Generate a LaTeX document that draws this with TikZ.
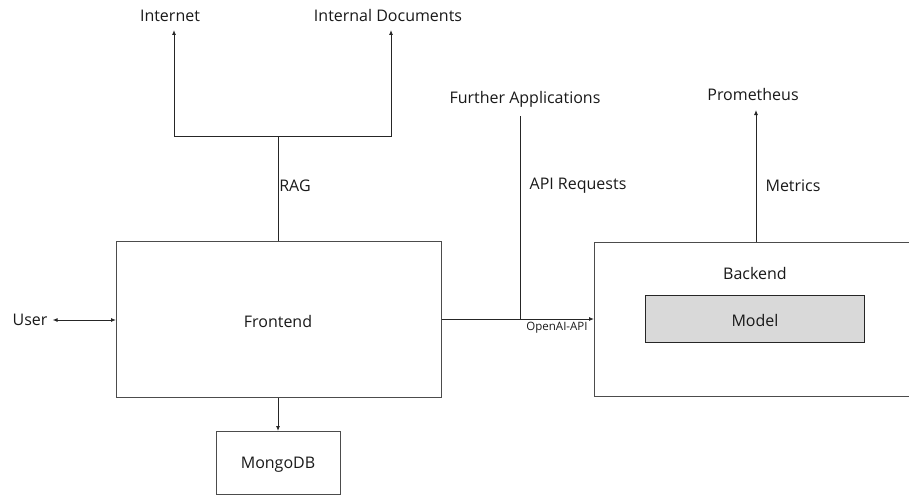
\documentclass[tikz,border=0pt]{standalone}
\usepackage{fontspec}
\setmainfont{Open Sans}
\usetikzlibrary{arrows.meta}
\begin{document}
\begin{tikzpicture}[x=1pt,y=-1pt,
  every node/.style={font=\fontsize{16}{18}\selectfont, text=black!90, inner sep=0pt},
  box/.style={draw=black!70, line width=1pt, fill=white},
  link/.style={draw=black!85, line width=0.9pt},
  tip/.style={-{Latex[length=5pt,width=4pt]}},
  small/.style={font=\fontsize{11.5}{13}\selectfont}]
\useasboundingbox (0,0) rectangle (909,495);
\begin{scope}
\clip (0,0) rectangle (909,495);
% boxes
\node[box, minimum width=325, minimum height=156, anchor=north west] (fe) at (116,241) {};
\node at (278,321) {Frontend};
\node[box, minimum width=124, minimum height=63, anchor=north west] (db) at (216,431) {};
\node at (278,465) {MongoDB};
\node[box, minimum width=330, minimum height=154, anchor=north west] (be) at (594,242) {};
\node (betext) at (755,273) {Backend};
\node[box, fill=black!15, draw=black!85, minimum width=219, minimum height=47, anchor=north west] (model) at (645,295) {};
\node at (755,320) {Model};
% outer labels
\node (user) at (30,320) {User};
\node (inet) at (170,16) {Internet};
\node (docs) at (388,16) {Internal Documents};
\node (apps) at (525,99) {Further Applications};
\node (prom) at (753,94) {Prometheus};
\node at (295,186) {RAG};
\node at (578,186) {API Requests};
\node at (793,186) {Metrics};
\node[small] at (557,328) {OpenAI-API};
% junction points
\coordinate (ragj) at (fe.north -| 278,0);
\coordinate (ragL) at (174,136);
\coordinate (ragR) at (391,136);
\coordinate (apij) at (520,319);
% connectors
\draw[link, {Latex[length=5pt,width=4pt]}-{Latex[length=5pt,width=4pt]}] (user.east) ++(5,0) coordinate (ue) (ue) -- (fe.west |- ue);
\draw[link, tip] (fe.south -| 278,0) -- (db.north -| 278,0);
\draw[link] (ragj) -- (278,136);
\draw[link, tip] (278,136) -- (ragL) -- (174,30);
\draw[link, tip] (278,136) -- (ragR) -- (391,30);
\draw[link, tip] (fe.east |- apij) -- (be.west |- apij);
\draw[link] (apij) -- (520,116);
\draw[link, tip] (be.north -| 756,0) -- (756,110);
\end{scope}
\end{tikzpicture}
\end{document}
